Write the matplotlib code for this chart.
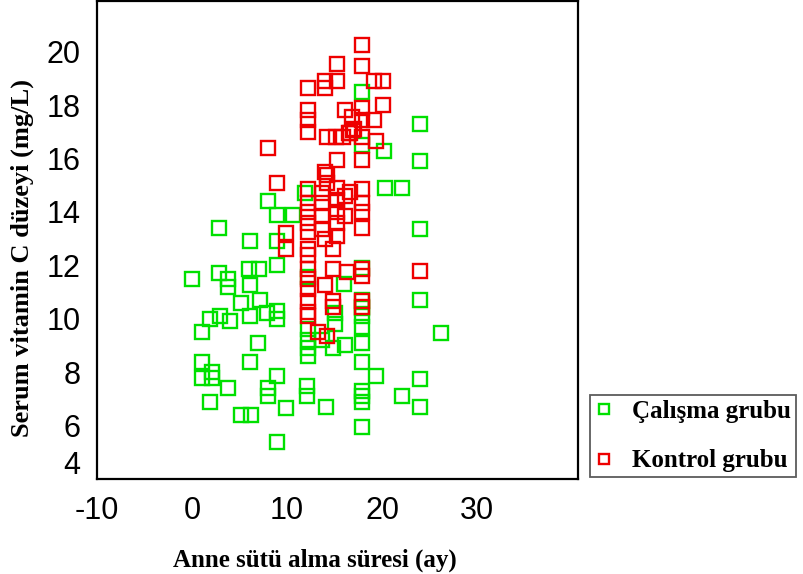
import matplotlib
matplotlib.use('Agg')
import matplotlib.pyplot as plt
import matplotlib.transforms as mtransforms

plt.rcParams['axes.unicode_minus'] = False

# Çalışma grubu (study group): breastfeeding months vs serum vitamin C
calisma_x = [0.0, 1.0, 1.0, 1.0, 1.9, 1.9, 2.1, 2.1, 2.8, 2.8, 2.9, 3.8, 3.8, 3.8, 4.0,
             5.2, 5.1, 6.1, 6.0, 6.1, 6.1, 6.1, 6.2, 7.0, 7.1, 6.9, 8.0, 7.9, 8.0, 8.0,
             8.9, 8.9, 8.9, 8.9, 8.9, 8.9, 8.9, 9.9, 10.6, 11.9, 12.2, 12.2, 12.2, 12.2,
             12.2, 12.1, 12.1, 13.7, 14.1, 14.8, 15.0, 15.0, 16.0, 16.1, 17.9, 17.9, 17.9,
             17.9, 17.9, 17.9, 17.9, 17.9, 17.9, 17.9, 17.9, 17.9, 17.9, 19.3, 20.2, 20.3,
             22.1, 22.1, 24.0, 24.0, 24.0, 24.0, 24.0, 24.0, 26.2]
calisma_y = [11.5, 9.5, 8.4, 7.8, 10.0, 6.9, 8.0, 7.8, 13.4, 11.7, 10.1, 11.5, 11.2, 7.4, 9.9,
             10.6, 6.4, 12.9, 11.85, 11.25, 10.1, 8.4, 6.4, 11.85, 10.7, 9.1, 14.4, 10.2, 7.4, 7.1,
             13.9, 12.9, 12.0, 10.3, 10.0, 7.85, 5.4, 6.65, 13.9, 14.7, 11.55, 9.6, 9.2, 8.9,
             8.6, 7.5, 7.1, 9.2, 6.7, 8.9, 10.2, 9.8, 11.3, 9.0, 18.5, 16.5, 11.9,
             10.7, 10.4, 10.1, 9.7, 9.1, 8.4, 7.3, 7.1, 6.9, 5.95, 7.85, 16.3, 14.9,
             14.9, 7.1, 17.3, 15.9, 13.35, 10.7, 7.75, 6.7, 9.45]

# Kontrol grubu (control group)
kontrol_x = [8.0, 8.9, 9.9, 9.9, 12.2, 12.2, 12.2, 12.2, 12.2, 12.2, 12.2, 12.2, 12.2, 12.2,
             12.2, 12.2, 12.2, 12.2, 12.2, 12.2, 12.2, 13.2, 13.7, 13.7, 13.7, 13.7, 14.0, 14.0,
             14.0, 14.0, 14.0, 14.2, 14.2, 14.2, 14.2, 14.8, 14.8, 14.8, 14.8, 15.1, 15.2, 15.2,
             15.3, 15.3, 15.3, 15.3, 15.3, 15.3, 15.9, 16.1, 16.1, 16.1, 16.3, 16.6, 16.5, 16.8,
             17.0, 16.6, 16.9, 17.9, 17.9, 17.9, 17.9, 17.9, 17.9, 17.9, 17.9, 17.9, 17.9, 17.9,
             17.9, 17.9, 17.9, 19.1, 20.1, 20.1, 19.1, 19.3, 24.0]
kontrol_y = [16.4, 15.1, 13.2, 12.6, 18.65, 17.8, 17.45, 17.0, 14.85, 14.35, 14.0, 13.6, 13.25, 12.6,
             12.4, 11.85, 11.5, 11.1, 10.65, 10.25, 10.1, 9.5, 14.7, 14.35, 13.85, 13.35, 18.9, 18.65,
             15.5, 13.0, 11.25, 16.8, 15.4, 15.1, 9.35, 12.6, 11.85, 10.65, 10.45, 16.8, 19.55, 15.95,
             18.9, 14.9, 14.45, 14.0, 13.6, 13.1, 16.8, 17.8, 14.6, 13.85, 11.75, 14.75, 16.95, 17.55,
             17.1, 16.97, 17.08, 20.25, 19.45, 17.9, 17.45, 16.8, 15.95, 14.85, 14.35, 14.0, 13.4, 11.85,
             11.6, 10.65, 10.45, 18.9, 18.9, 18.0, 17.45, 16.65, 11.8]

x_ticks = [-10, 0, 10, 20, 30]
y_ticks = [4, 6, 8, 10, 12, 14, 16, 18, 20]

GREEN = '#00e000'
RED = '#ee0000'
serif = 'Liberation Serif'
sans = 'Liberation Sans'

fig = plt.figure(figsize=(8.04, 5.74), dpi=100)
ax = fig.add_axes([97 / 804, 1 - 479 / 574, (578 - 97) / 804, (479 - 1) / 574])

ax.plot(calisma_x, calisma_y, 's', ls='none', mfc='none', mec=GREEN, ms=9.5, mew=1.7,
        label='Çalışma grubu', zorder=2)
ax.plot(kontrol_x, kontrol_y, 's', ls='none', mfc='none', mec=RED, ms=9.5, mew=1.7,
        label='Kontrol grubu', zorder=3)

ax.set_xlim(-10, 40.6)
ax.set_ylim(4, 21.9)
ax.set_xticks(x_ticks)
ax.set_yticks(y_ticks)
ax.tick_params(length=0, labelsize=22, pad=12)
for lab in ax.get_xticklabels() + ax.get_yticklabels():
    lab.set_fontfamily(sans)
# the bottom "4" sits a bit higher than its tick in the original
lab4 = ax.get_yticklabels()[0]
lab4.set_transform(lab4.get_transform() + mtransforms.ScaledTranslation(0, 17 / 100, fig.dpi_scale_trans))
for s in ax.spines.values():
    s.set_linewidth(1.6)

fig.text(315 / 804, 1 - 560 / 574, 'Anne sütü alma süresi (ay)', ha='center', va='center',
         family=serif, weight='bold', fontsize=18)
fig.text(22 / 804, 1 - 258 / 574, 'Serum vitamin C düzeyi (mg/L)', ha='center', va='center',
         rotation=90, family=serif, weight='bold', fontsize=19)

leg = fig.legend(loc='upper left', bbox_to_anchor=(590 / 804, 1 - 395 / 574),
                 frameon=True, fancybox=False, edgecolor='#333333', markerscale=0.75,
                 prop={'family': serif, 'weight': 'bold', 'size': 18},
                 labelspacing=1.05, handlelength=0.7, handletextpad=0.8, borderpad=0.2,
                 borderaxespad=0)
leg.get_frame().set_linewidth(1.3)

fig.savefig('out.png', dpi=100)
